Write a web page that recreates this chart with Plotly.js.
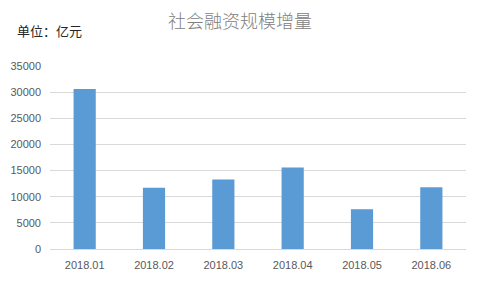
<!DOCTYPE html>
<html><head><meta charset="utf-8">
<script src="https://cdn.plot.ly/plotly-3.0.1.min.js"></script>
<style>html,body{margin:0;padding:0;background:#fff;}#chart{width:480px;height:288px;}</style>
</head><body><div id="chart"></div>
<script>
const categories = ["2018.01","2018.02","2018.03","2018.04","2018.05","2018.06"];
const values = [30600, 11700, 13300, 15600, 7608, 11800];
const yTicks = [0,5000,10000,15000,20000,25000,30000,35000];

const trace = {
  type: 'bar', x: categories, y: values,
  marker: {color: '#5b9bd5'}, hoverinfo: 'none'
};
const layout = {
  width: 480, height: 288,
  margin: {l: 50, r: 14, t: 66, b: 39},
  paper_bgcolor: '#fff', plot_bgcolor: '#fff',
  bargap: 0.68,
  showlegend: false,
  title: {text: '社会融资规模增量', x: 0.5, xanchor: 'center', y: 0.925, yanchor: 'middle',
          font: {family: '"Noto Sans CJK SC", sans-serif', size: 18, color: '#808080', weight: 300}},
  xaxis: {type: 'category', showgrid: false, zeroline: false, showline: true, linecolor: '#d9d9d9', linewidth: 1,
          ticks: '', ticklabelstandoff: 6,
          tickfont: {family: '"Liberation Sans", Arial, sans-serif', size: 11, color: '#595959'}},
  yaxis: {range: [0, 35000], tickvals: yTicks, ticktext: yTicks.map(String), showgrid: true, gridcolor: '#d9d9d9',
          zeroline: false, showline: false, ticks: '', ticklabelstandoff: 8,
          tickfont: {family: '"Liberation Sans", Arial, sans-serif', size: 11, color: '#595959'}},
  annotations: [{text: '单位：亿元', xref: 'paper', yref: 'paper', x: -50/416, y: (288-30-39)/183 , xanchor: 'left', yanchor: 'middle',
                 xshift: 15, showarrow: false, font: {family: '"Noto Sans CJK SC", sans-serif', size: 13, color: '#262626'}}]
};
Plotly.newPlot('chart', [trace], layout, {displayModeBar: false, staticPlot: true});
</script></body></html>
